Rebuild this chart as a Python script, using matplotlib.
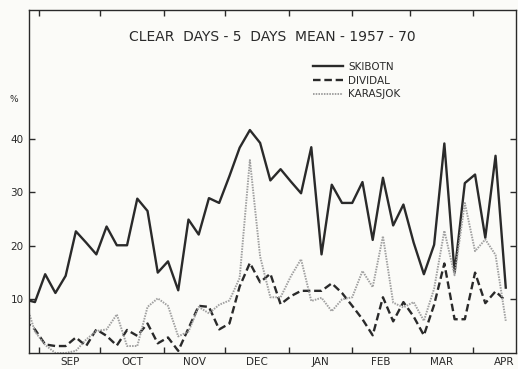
import numpy as np
import matplotlib
matplotlib.use("Agg")
import matplotlib.pyplot as plt

# pentad centres, days since 1 Sep (first pentad partly outside the frame)
pentad_day = np.arange(-7, 229, 5)

skibotn = [10, 9.5, 14.7, 11.2, 14.4, 22.7, 20.6, 18.4, 23.6, 20.1, 20.1, 28.8,
           26.5, 15, 17.1, 11.7, 24.9, 22.1, 28.9, 28.0, 33, 38.3, 41.6, 39.2,
           32.2, 34.3, 32, 29.8, 38.4, 18.4, 31.4, 28, 28, 31.9, 21.1, 32.7,
           23.8, 27.7, 20.6, 14.7, 20.2, 39.1, 15, 31.7, 33.3, 21.5, 36.8, 12.2]
dividal = [6, 4.4, 1.6, 1.3, 1.3, 2.9, 1.3, 4.4, 3.2, 1.4, 4.3, 3.2,
           5.5, 1.8, 2.9, 0.4, 4.6, 8.8, 8.6, 4.4, 5.5, 12.4, 16.8, 13.2,
           14.8, 9.1, 10.6, 11.6, 11.6, 11.6, 13, 11.2, 8.8, 6.3, 3.3, 10.4,
           5.9, 9.5, 6.8, 3.3, 9, 16.7, 6.3, 6.3, 15, 9.3, 11.5, 9.7]
karasjok = [10, 4, 1.5, 0, 0, 0.4, 2.5, 4.1, 4.4, 7.2, 1.3, 1.3,
            8.6, 10.2, 8.8, 3.1, 4.0, 8.6, 7.4, 9, 9.8, 14, 36, 18,
            10.4, 10.4, 14.3, 17.5, 9.7, 10.3, 7.8, 10, 10.4, 15.3, 12.3, 21.8,
            9.4, 8.5, 9.5, 6, 12, 22.8, 14.5, 28, 19, 21.2, 18.3, 6]

month_labels = ["SEP", "OCT", "NOV", "DEC", "JAN", "FEB", "MAR", "APR"]
month_lengths = [30, 31, 30, 31, 31, 28, 31, 30]
y_ticks = [10, 20, 30, 40]

month_start = np.concatenate([[0], np.cumsum(month_lengths)])
month_mid = month_start[:-1] + np.array(month_lengths) / 2.0

fig = plt.figure(figsize=(5.18, 3.69), dpi=100, facecolor="#fbfbf8")
ax = fig.add_axes([29 / 518, 1 - 353 / 369, 487 / 518, 343 / 369])
ax.set_facecolor("#fbfbf8")

ink = "#2a2a2a"
ax.plot(pentad_day, skibotn, color=ink, lw=1.7, label="SKIBOTN")
ax.plot(pentad_day, dividal, color=ink, lw=1.7, ls=(0, (3.2, 1.6)), label="DIVIDAL")
ax.plot(pentad_day, karasjok, color="#a0a0a0", lw=1.4, ls=(0, (0.8, 0.6)), label="KARASJOK")

ax.set_xlim(-4.9, 233)
ax.set_ylim(0, 64)

ax.set_xticks(month_start[:-1])
ax.set_xticklabels([])
ax.set_xticks(month_mid, minor=True)
ax.set_xticklabels(month_labels, minor=True)
ax.tick_params(axis="x", which="major", direction="in", length=4, width=1,
               top=True, bottom=True, color=ink)
ax.tick_params(axis="x", which="minor", length=0, pad=3, labelsize=7.5,
               labelcolor=ink)
ax.set_yticks(y_ticks)
ax.tick_params(axis="y", direction="in", length=4, width=1, left=True,
               right=True, labelsize=7.5, labelcolor=ink, color=ink, pad=4)

for s in ax.spines.values():
    s.set_color(ink)
    s.set_linewidth(1.0)

ax.set_title("CLEAR  DAYS - 5  DAYS  MEAN - 1957 - 70", fontsize=10,
             color=ink, y=1.0, pad=-22)

fig.text(9 / 518, 1 - 100 / 369, "%", fontsize=6.5, color=ink, ha="left", va="center")

leg = ax.legend(loc="upper left", bbox_to_anchor=(313 / 518, 1 - 62 / 369),
                bbox_transform=fig.transFigure, frameon=False, fontsize=7.5,
                handlelength=2.9, handletextpad=0.5, labelspacing=0.35,
                borderpad=0, borderaxespad=0)
for t in leg.get_texts():
    t.set_color(ink)

fig.savefig("out.png", dpi=100, facecolor=fig.get_facecolor())
